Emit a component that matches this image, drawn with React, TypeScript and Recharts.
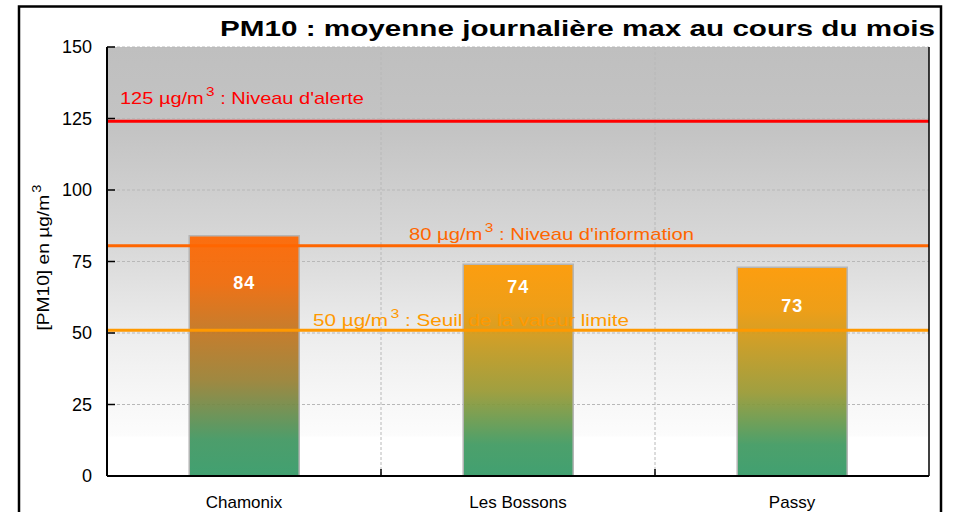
import React from 'react';
import { BarChart, Bar, XAxis, YAxis, CartesianGrid, ReferenceLine, LabelList, Cell } from 'recharts';

// ---- data ----
const categories = ['Chamonix', 'Les Bossons', 'Passy'];
const maxDailyPM10 = [84, 74, 73];
const yTicks = [0, 25, 50, 75, 100, 125, 150];
const thresholdLevels = [124, 80.5, 51];
const thresholdNumbers = ['125', '80', '50'];
const thresholdTexts = ["Niveau d'alerte", "Niveau d'information", 'Seuil de la valeur limite'];
const thresholdColors = ['#ff0000', '#ff6600', '#ff9900'];
const titleText = 'PM10 : moyenne journalière max au cours du mois';

// ---- styles ----
const FONT = '"Liberation Sans", Arial, Helvetica, sans-serif';
const CHART_W = 955;
const CHART_H = 512;
const MARGIN = { top: 47, right: 26, bottom: 0, left: 20 };
const Y_AXIS_W = 87;
const PLOT_W = CHART_W - MARGIN.left - MARGIN.right - Y_AXIS_W;
const BAND = PLOT_W / categories.length;
const thresholdLabelPos = [
  { dx: 13, dy: -17, len: 244 },
  { dx: 302, dy: -6, len: 285 },
  { dx: 206, dy: -4.5, len: 316 },
];
const valueLabelOffsets = [53, 29, 45];
const GREEN = [0x33, 0x99, 0x66];

const data = categories.map((c, i) => ({ name: c, value: maxDailyPM10[i] }));

function hexToRgb(h: string) {
  return [parseInt(h.slice(1, 3), 16), parseInt(h.slice(3, 5), 16), parseInt(h.slice(5, 7), 16)];
}
function mix(top: string, t: number) {
  const a = hexToRgb(top);
  const c = a.map((v, k) => Math.round(v + (GREEN[k] - v) * t));
  return `rgb(${c[0]},${c[1]},${c[2]})`;
}
const gradCurve = [
  [0, 0],
  [0.2, 0.08],
  [0.4, 0.3],
  [0.6, 0.5],
  [0.85, 0.94],
  [1, 1],
];
const topColor = (v: number) => (v >= 80 ? '#ff6600' : '#ff9900');

const makeThresholdLabel = (i: number) => (props: any) => {
  const vb = props.viewBox || {};
  const x = (vb.x ?? 0) + thresholdLabelPos[i].dx;
  const y = (vb.y ?? 0) + thresholdLabelPos[i].dy;
  return (
    <text
      x={x}
      y={y}
      fill={thresholdColors[i]}
      fontSize={17}
      fontFamily={FONT}
      textLength={thresholdLabelPos[i].len}
      lengthAdjust="spacingAndGlyphs"
    >
      {`${thresholdNumbers[i]} µg/m`}
      <tspan dx={2} dy={-8} fontSize={13}>3</tspan>
      <tspan dy={8}>{` : ${thresholdTexts[i]}`}</tspan>
    </text>
  );
};

const ValueLabel = (props: any) => {
  const { x, y, width, value, index } = props;
  const off = valueLabelOffsets[index ?? 0] ?? 40;
  return (
    <text
      x={Number(x) + Number(width) / 2}
      y={Number(y) + off}
      textAnchor="middle"
      fill="#ffffff"
      fontWeight="bold"
      fontSize={18}
      fontFamily={FONT}
      letterSpacing={1}
    >
      {value}
    </text>
  );
};

const YTitle = (props: any) => {
  const vb = props.viewBox || {};
  const cx = (vb.x ?? 0) + 23;
  const cy = (vb.y ?? 0) + (vb.height ?? 0) / 2 - 4;
  return (
    <text
      x={cx}
      y={cy}
      transform={`rotate(-90, ${cx}, ${cy})`}
      textAnchor="middle"
      dy="0.35em"
      fill="#000"
      fontSize={17}
      fontFamily={FONT}
      textLength={146}
      lengthAdjust="spacingAndGlyphs"
    >
      [PM10] en µg/m
      <tspan dx={2} dy={-8} fontSize={13}>3</tspan>
    </text>
  );
};

// category tick: label below, plus a small inward tick mark at the right boundary of each band
const CatTick = (props: any) => {
  const { x, y, payload, index } = props;
  const axisY = Number(y) - 20;
  const bx = Number(x) + BAND / 2;
  return (
    <g>
      {index < categories.length - 1 && (
        <line x1={bx} x2={bx} y1={axisY} y2={axisY - 7} stroke="#000" strokeWidth={1.5} />
      )}
      <text x={x} y={y} dy="0.71em" textAnchor="middle" fill="#000" fontSize={17} fontFamily={FONT}>
        {payload.value}
      </text>
    </g>
  );
};

const boundaryGenerator = (props: any) => {
  const off = props.offset || {};
  const left = off.left ?? MARGIN.left + Y_AXIS_W;
  const w = off.width ?? PLOT_W;
  return categories.slice(1).map((_, k) => left + (w * (k + 1)) / categories.length);
};

export default function App() {
  return (
    <div style={{ position: 'absolute', left: 0, top: 0, width: CHART_W, height: CHART_H, background: '#fff', overflow: 'hidden' }}>
      <BarChart
        width={CHART_W}
        height={CHART_H}
        data={data}
        margin={MARGIN}
        barCategoryGap="30%"
      >
        <defs>
          <linearGradient id="bgGrad" x1="0" y1="0" x2="0" y2="1">
            <stop offset="0" stopColor="#bfbfbf" />
            <stop offset="0.2" stopColor="#c4c4c4" />
            <stop offset="0.46" stopColor="#d8d8d8" />
            <stop offset="0.66" stopColor="#ececec" />
            <stop offset="0.82" stopColor="#f7f7f7" />
            <stop offset="0.905" stopColor="#fcfcfc" />
            <stop offset="0.91" stopColor="#ffffff" />
            <stop offset="1" stopColor="#ffffff" />
          </linearGradient>
          {maxDailyPM10.map((v, i) => (
            <linearGradient key={i} id={`barGrad${i}`} x1="0" y1="0" x2="0" y2="1">
              {gradCurve.map(([o, t], k) => (
                <stop key={k} offset={o} stopColor={mix(topColor(v), t)} />
              ))}
            </linearGradient>
          ))}
        </defs>
        <CartesianGrid
          fill="url(#bgGrad)"
          fillOpacity={1}
          stroke="#b8b8b8"
          strokeDasharray="3 2"
          strokeWidth={1}
          verticalCoordinatesGenerator={boundaryGenerator}
        />
        <XAxis
          dataKey="name"
          height={36}
          axisLine={{ stroke: '#000', strokeWidth: 2 }}
          tickLine={false}
          tickSize={0}
          tickMargin={20}
          interval={0}
          tick={<CatTick />}
        />
        <YAxis
          domain={[0, 150]}
          ticks={yTicks}
          width={Y_AXIS_W}
          tickSize={-8}
          tickMargin={23}
          interval={0}
          axisLine={{ stroke: '#000', strokeWidth: 2 }}
          tickLine={{ stroke: '#000', strokeWidth: 1.5 }}
          tick={{ fill: '#000', fontSize: 18, fontFamily: FONT }}
          label={<YTitle />}
        />
        <ReferenceLine y={thresholdLevels[2]} stroke="none" label={makeThresholdLabel(2)} />
        <Bar
          dataKey="value"
          isAnimationActive={false}
          stroke="#b5b5b5"
          strokeWidth={1.5}
          fillOpacity={0.93}
        >
          {data.map((d, i) => (
            <Cell key={i} fill={`url(#barGrad${i})`} />
          ))}
          <LabelList dataKey="value" content={<ValueLabel />} />
        </Bar>
        {thresholdLevels.map((lv, i) => (
          <ReferenceLine
            key={i}
            y={lv}
            stroke={thresholdColors[i]}
            strokeWidth={3}
            label={i === 2 ? undefined : makeThresholdLabel(i)}
          />
        ))}
        <ReferenceLine x={categories[categories.length - 1]} stroke="none" />
      </BarChart>
      <svg width={CHART_W} height={CHART_H} style={{ position: 'absolute', left: 0, top: 0, pointerEvents: 'none' }}>
        <line
          x1={CHART_W - MARGIN.right}
          x2={CHART_W - MARGIN.right}
          y1={MARGIN.top}
          y2={CHART_H - 36}
          stroke="#000"
          strokeWidth={1.5}
        />
        <rect x={19} y={6.5} width={922} height={600} fill="none" stroke="#000" strokeWidth={2.5} />
        <text
          x={220}
          y={35.5}
          fontSize={22}
          fontWeight="bold"
          fontFamily={FONT}
          fill="#000"
          textLength={715}
          lengthAdjust="spacingAndGlyphs"
        >
          {titleText}
        </text>
      </svg>
    </div>
  );
}
